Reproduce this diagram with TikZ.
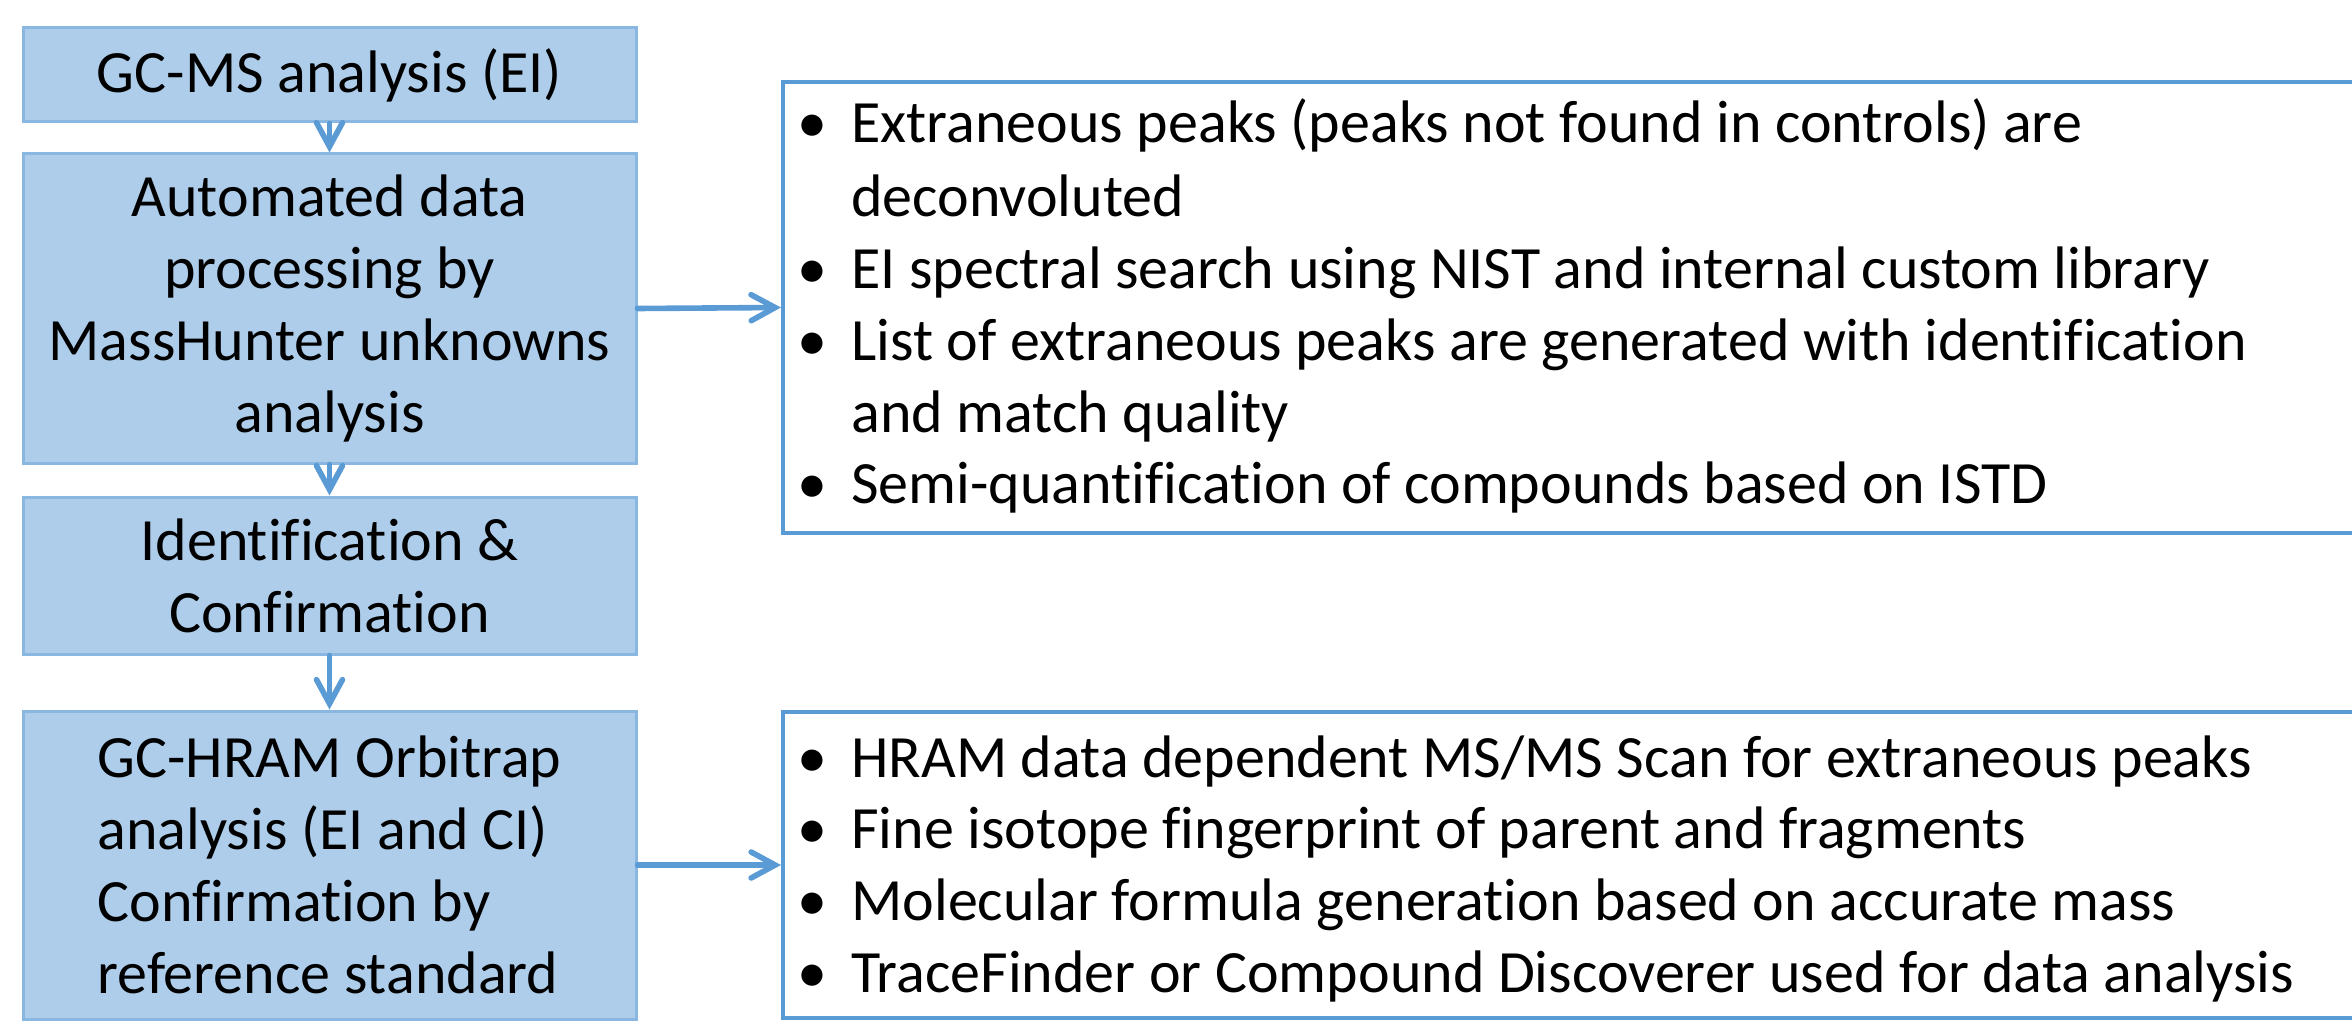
\documentclass[tikz,border=0pt]{standalone}
\usepackage{fontspec}
\setmainfont{Carlito}[Ligatures={NoCommon,TeX}]
\usetikzlibrary{arrows.meta}
\definecolor{accent}{RGB}{91,155,213}
\colorlet{boxfill}{accent!50!white}
\colorlet{boxline}{accent!72!white}
\newcommand{\bulbox}{\makebox[27pt][l]{\textbullet}}
\begin{document}
\begin{tikzpicture}[x=0.5pt,y=-0.5pt,
  flow/.style={draw=boxline, fill=boxfill, line width=1.5pt, minimum width=306.5pt,
    inner sep=0pt, align=center, font=\fontsize{30}{36}\selectfont},
  listbox/.style={draw=accent, line width=2pt, inner sep=0pt, minimum width=808.5pt},
  conn/.style={draw=accent, line width=2.8pt, line cap=round,
    -{Straight Barb[length=12pt,width=13pt,line cap=round]}},
  txt/.style={anchor=base west, inner sep=0pt, font=\fontsize{30}{36}\selectfont}
]
\useasboundingbox (0,0) rectangle (2352,1022);
\begin{scope}
\clip (0,0) rectangle (2352,1022);
% left flow boxes
\node[flow, minimum height=47pt] (b1) at (329.5,75) {GC-MS analysis (EI)};
\node[flow, minimum height=154.5pt] (b2) at (329.5,308.5) {Automated data\\processing by\\MassHunter unknowns\\analysis};
\node[flow, minimum height=78.5pt] (b3) at (329.5,575.5) {Identification \&\\Confirmation};
\node[flow, minimum height=154pt, align=left] (b4) at (329.5,865) {GC-HRAM Orbitrap\\analysis (EI and CI)\\Confirmation by\\reference standard};
% right list boxes
\node[listbox, minimum height=225.5pt] (r1) at (1591.5,307.5) {};
\node[listbox, minimum height=153pt] (r2) at (1591.5,865) {};
% list texts
\node[txt] (t1) at (797,143) {\bulbox Extraneous peaks (peaks not found in controls) are};
\node[txt] (t1b) at (851,216) {deconvoluted};
\node[txt] (t2) at (797,288) {\bulbox EI spectral search using NIST and internal custom library};
\node[txt] (t3) at (797,360) {\bulbox List of extraneous peaks are generated with identification};
\node[txt] (t3b) at (851,432) {and match quality};
\node[txt] (t4) at (797,503) {\bulbox Semi-quantification of compounds based on ISTD};
\node[txt] (u1) at (797,777) {\bulbox HRAM data dependent MS/MS Scan for extraneous peaks};
\node[txt] (u2) at (797,848) {\bulbox Fine isotope fingerprint of parent and fragments};
\node[txt] (u3) at (797,920) {\bulbox Molecular formula generation based on accurate mass};
\node[txt] (u4) at (797,992) {\bulbox TraceFinder or Compound Discoverer used for data analysis};
% connectors
\draw[conn] (b1) -- (b2);
\draw[conn] (b2) -- (b3);
\draw[conn] (b3) -- (b4);
\draw[conn] (b2.east) -- (r1.west);
\draw[conn] (b4.east) -- (r2.west);
\end{scope}
\end{tikzpicture}
\end{document}
